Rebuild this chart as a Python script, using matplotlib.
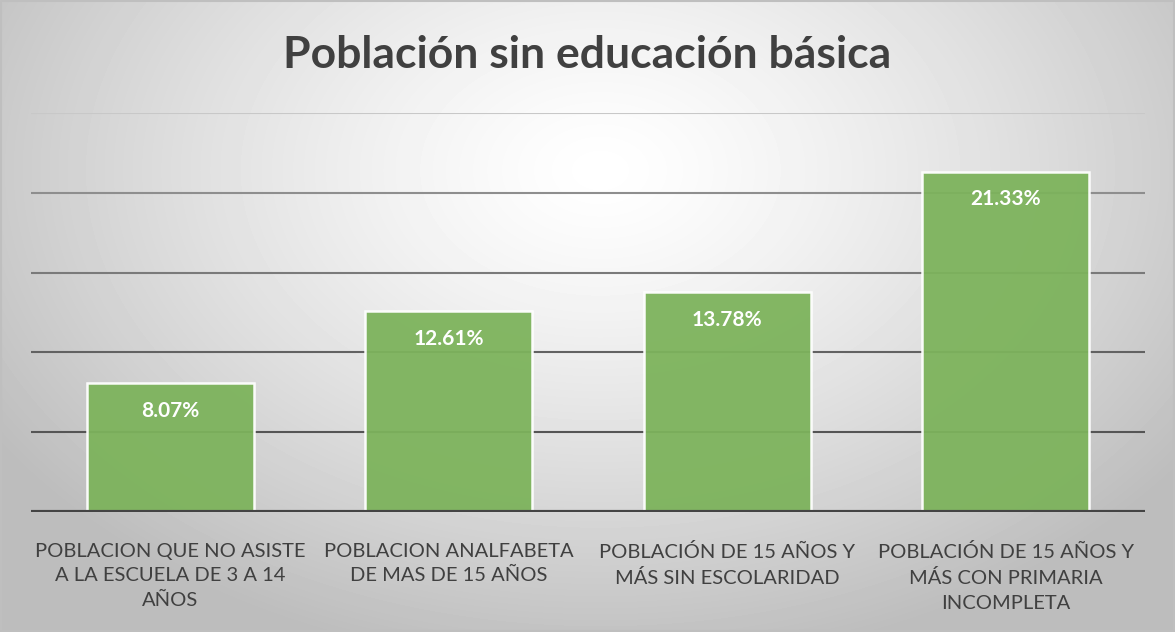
import numpy as np
import matplotlib.pyplot as plt

categorias = ["POBLACION QUE NO ASISTE\nA LA ESCUELA DE 3 A 14\nAÑOS",
              "POBLACION ANALFABETA\nDE MAS DE 15 AÑOS",
              "POBLACIÓN DE 15 AÑOS Y\nMÁS SIN ESCOLARIDAD",
              "POBLACIÓN DE 15 AÑOS Y\nMÁS CON PRIMARIA\nINCOMPLETA"]
valores = [8.07, 12.61, 13.78, 21.33]
etiquetas = ["8.07%", "12.61%", "13.78%", "21.33%"]
titulo = "Población sin educación básica"

plt.rcParams['font.family'] = ['Lato', 'DejaVu Sans']

fig = plt.figure(figsize=(11.75, 6.32), dpi=100)

# fondo con degradado radial
bg = fig.add_axes([0, 0, 1, 1])
yy, xx = np.mgrid[0:632, 0:1175]
r = np.sqrt(((xx - 600) / 720.0) ** 2 + ((yy - 170) / 500.0) ** 2)
r = np.clip(r, 0, 1)
shade = 1.0 - 0.26 * r ** 1.3
bg.imshow(shade, cmap='gray', vmin=0, vmax=1, aspect='auto', extent=[0, 1, 0, 1])
bg.plot([0.001, 0.999, 0.999, 0.001, 0.001], [0.001, 0.001, 0.999, 0.999, 0.001],
        color='#bfbfbf', lw=1.5)
bg.set_xlim(0, 1)
bg.set_ylim(0, 1)
bg.axis('off')

ax = fig.add_axes([31 / 1175, 1 - 512 / 632, 1114 / 1175, 399 / 632])
ax.patch.set_alpha(0)
x = np.arange(len(valores))

grid_cols = {5: '#555555', 10: '#626262', 15: '#7a7a7a', 20: '#8e8e8e', 25: '#c8c8c8'}
for g, c in grid_cols.items():
    ax.axhline(g, color=c, lw=1.5, zorder=1)
ax.axhline(0, color='#444444', lw=3, zorder=4)

bars = ax.bar(x, valores, width=0.6, color='#7db35c', edgecolor='white',
              linewidth=1.8, alpha=0.95, zorder=2)
for b, lab in zip(bars, etiquetas):
    ax.annotate(lab, (b.get_x() + b.get_width() / 2, b.get_height()),
                xytext=(0, -20), textcoords='offset points', ha='center', va='center',
                color='white', fontsize=15, fontweight='bold', zorder=5)

ax.set_xlim(-0.5, len(valores) - 0.5)
ax.set_ylim(0, 25)
ax.set_yticks([])
ax.set_xticks(x)
ax.set_xticklabels(categorias, fontsize=14.5, color='#404040', linespacing=1.55)
ax.tick_params(axis='x', length=0, pad=22)
for s in ax.spines.values():
    s.set_visible(False)

fig.text(0.5, 1 - 55 / 632, titulo, ha='center', va='center', fontsize=32,
         fontweight='bold', color='#404040')

fig.savefig("out.png", dpi=100)
